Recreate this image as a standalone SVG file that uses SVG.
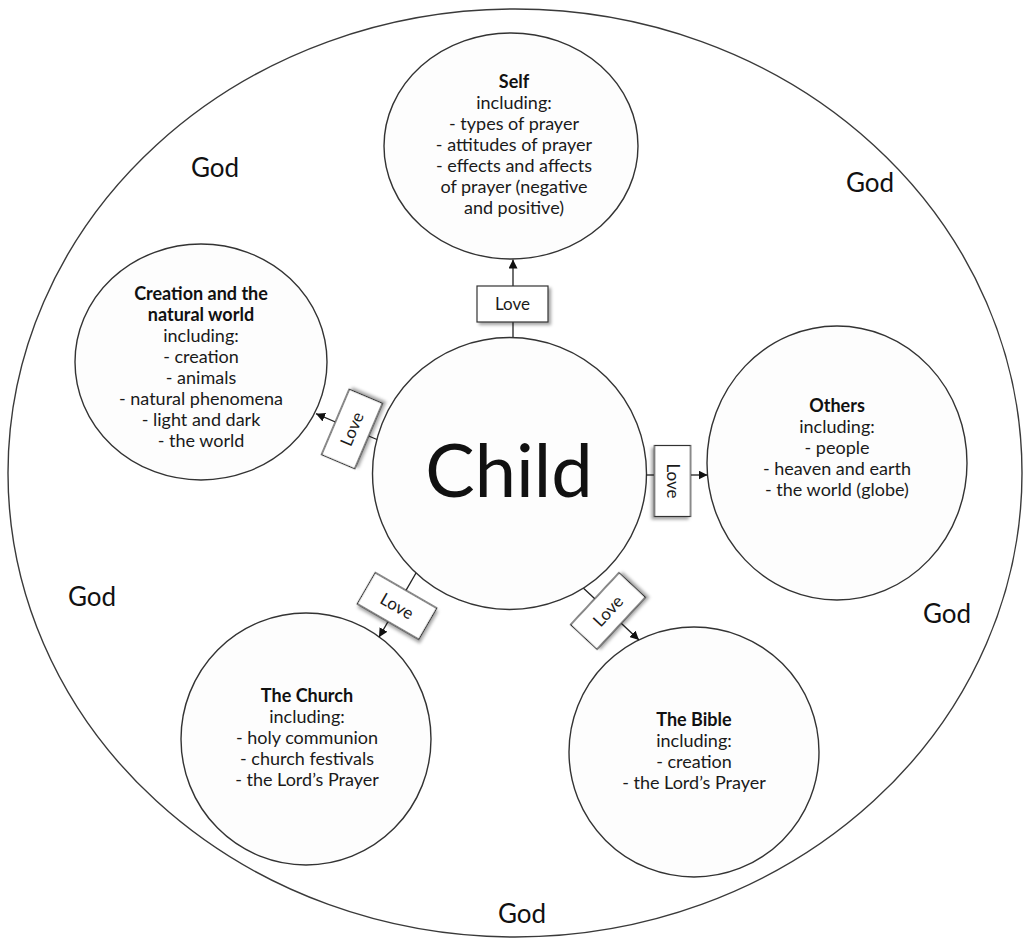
<svg xmlns="http://www.w3.org/2000/svg" width="1025" height="939" viewBox="0 0 1025 939">
  <defs>
    <marker id="arrow" viewBox="0 0 10 10" refX="10" refY="5" markerWidth="9" markerHeight="9" markerUnits="userSpaceOnUse" orient="auto">
      <path d="M0,0 L10,5 L0,10 Z" fill="#111"/>
    </marker>
    <filter id="shadow" x="-30%" y="-30%" width="160%" height="160%">
      <feDropShadow dx="2.5" dy="2.5" stdDeviation="1.6" flood-color="#000" flood-opacity="0.35"/>
    </filter>
  </defs>
  <style>
    .outer { fill: #fff; stroke: #3a3a3a; stroke-width: 1.4; }
    .node { fill: #fdfdfd; stroke: #333; stroke-width: 1.4; }
    .t { font-family: Lato, "Liberation Sans", sans-serif; font-size: 18px; fill: #1a1a1a; text-anchor: middle; }
    .b { font-weight: bold; fill: #111; }
    .god { font-family: Lato, "Liberation Sans", sans-serif; font-size: 26px; fill: #111; text-anchor: middle; }
    .child { font-family: Lato, "Liberation Sans", sans-serif; font-size: 74px; fill: #111; text-anchor: middle; }
    .link { stroke: #222; stroke-width: 1.3; fill: none; }
    .arrow { marker-end: url(#arrow); }
    .lbox { fill: #fff; stroke: #333; stroke-width: 1.2; filter: url(#shadow); }
    .ltxt { font-family: Lato, "Liberation Sans", sans-serif; font-size: 17px; fill: #1a1a1a; text-anchor: middle; }
  </style>

  <!-- God: the surrounding circle -->
  <g id="god">
    <ellipse class="outer" cx="515" cy="473" rx="507" ry="464"/>
    <text class="god" x="215" y="177">God</text>
    <text class="god" x="870" y="192">God</text>
    <text class="god" x="92" y="606">God</text>
    <text class="god" x="947" y="623">God</text>
    <text class="god" x="522" y="923">God</text>
  </g>

  <g id="node-self">
    <ellipse class="node" cx="511" cy="146" rx="127" ry="113"/>
    <text class="t b" x="514" y="88">Self</text>
    <text class="t" x="514" y="109">including:</text>
    <text class="t" x="514" y="130">- types of prayer</text>
    <text class="t" x="514" y="151">- attitudes of prayer</text>
    <text class="t" x="514" y="172">- effects and affects</text>
    <text class="t" x="514" y="193">of prayer (negative</text>
    <text class="t" x="514" y="214">and positive)</text>
  </g>

  <g id="node-creation">
    <ellipse class="node" cx="201" cy="362" rx="126" ry="118"/>
    <text class="t b" x="201" y="300">Creation and the</text>
    <text class="t b" x="201" y="321">natural world</text>
    <text class="t" x="201" y="342">including:</text>
    <text class="t" x="201" y="363">- creation</text>
    <text class="t" x="201" y="384">- animals</text>
    <text class="t" x="201" y="405">- natural phenomena</text>
    <text class="t" x="201" y="426">- light and dark</text>
    <text class="t" x="201" y="447">- the world</text>
  </g>

  <g id="node-others">
    <ellipse class="node" cx="837" cy="463" rx="130" ry="137"/>
    <text class="t b" x="837" y="412">Others</text>
    <text class="t" x="837" y="433">including:</text>
    <text class="t" x="837" y="454">- people</text>
    <text class="t" x="837" y="475">- heaven and earth</text>
    <text class="t" x="837" y="496">- the world (globe)</text>
  </g>

  <g id="node-church">
    <ellipse class="node" cx="306" cy="739" rx="125" ry="126"/>
    <text class="t b" x="307" y="702">The Church</text>
    <text class="t" x="307" y="723">including:</text>
    <text class="t" x="307" y="744">- holy communion</text>
    <text class="t" x="307" y="765">- church festivals</text>
    <text class="t" x="307" y="786">- the Lord’s Prayer</text>
  </g>

  <g id="node-bible">
    <ellipse class="node" cx="694" cy="752" rx="125" ry="125"/>
    <text class="t b" x="694" y="726">The Bible</text>
    <text class="t" x="694" y="747">including:</text>
    <text class="t" x="694" y="768">- creation</text>
    <text class="t" x="694" y="789">- the Lord’s Prayer</text>
  </g>

  <g id="node-child">
    <ellipse class="node" cx="509.5" cy="473.5" rx="137" ry="136"/>
    <text class="child" x="509" y="497">Child</text>
  </g>

  <!-- Love links from Child to each area -->
  <g id="connectors">
    <g id="link-self">
      <line class="link" x1="513" y1="337" x2="513" y2="322"/>
      <line class="link arrow" x1="513" y1="286" x2="513" y2="259.5"/>
      <g transform="translate(512.5,304)">
        <rect class="lbox" x="-35.5" y="-18" width="71" height="36"/>
        <text class="ltxt" x="0" y="6">Love</text>
      </g>
    </g>
    <g id="link-others">
      <line class="link" x1="646" y1="475" x2="654" y2="475"/>
      <line class="link arrow" x1="691" y1="475" x2="707.5" y2="475"/>
      <g transform="translate(672.5,481) rotate(90)">
        <rect class="lbox" x="-35.5" y="-18" width="71" height="36"/>
        <text class="ltxt" x="0" y="6">Love</text>
      </g>
    </g>
    <g id="link-creation">
      <line class="link" x1="377" y1="439.5" x2="368.6" y2="436"/>
      <line class="link arrow" x1="335.4" y1="422" x2="316" y2="413.7"/>
      <g transform="translate(352,429) rotate(-67)">
        <rect class="lbox" x="-35.5" y="-18" width="71" height="36"/>
        <text class="ltxt" x="0" y="6">Love</text>
      </g>
    </g>
    <g id="link-church">
      <line class="link" x1="416" y1="573" x2="406" y2="590.4"/>
      <line class="link arrow" x1="388" y1="621.6" x2="379" y2="637.2"/>
      <g transform="translate(397,606) rotate(30)">
        <rect class="lbox" x="-35.5" y="-18" width="71" height="36"/>
        <text class="ltxt" x="0" y="6">Love</text>
      </g>
    </g>
    <g id="link-bible">
      <line class="link" x1="583.5" y1="588.2" x2="594.8" y2="598.7"/>
      <line class="link arrow" x1="621.2" y1="623.3" x2="639" y2="640"/>
      <g transform="translate(608,611) rotate(-47)">
        <rect class="lbox" x="-35.5" y="-18" width="71" height="36"/>
        <text class="ltxt" x="0" y="6">Love</text>
      </g>
    </g>
  </g>
</svg>
